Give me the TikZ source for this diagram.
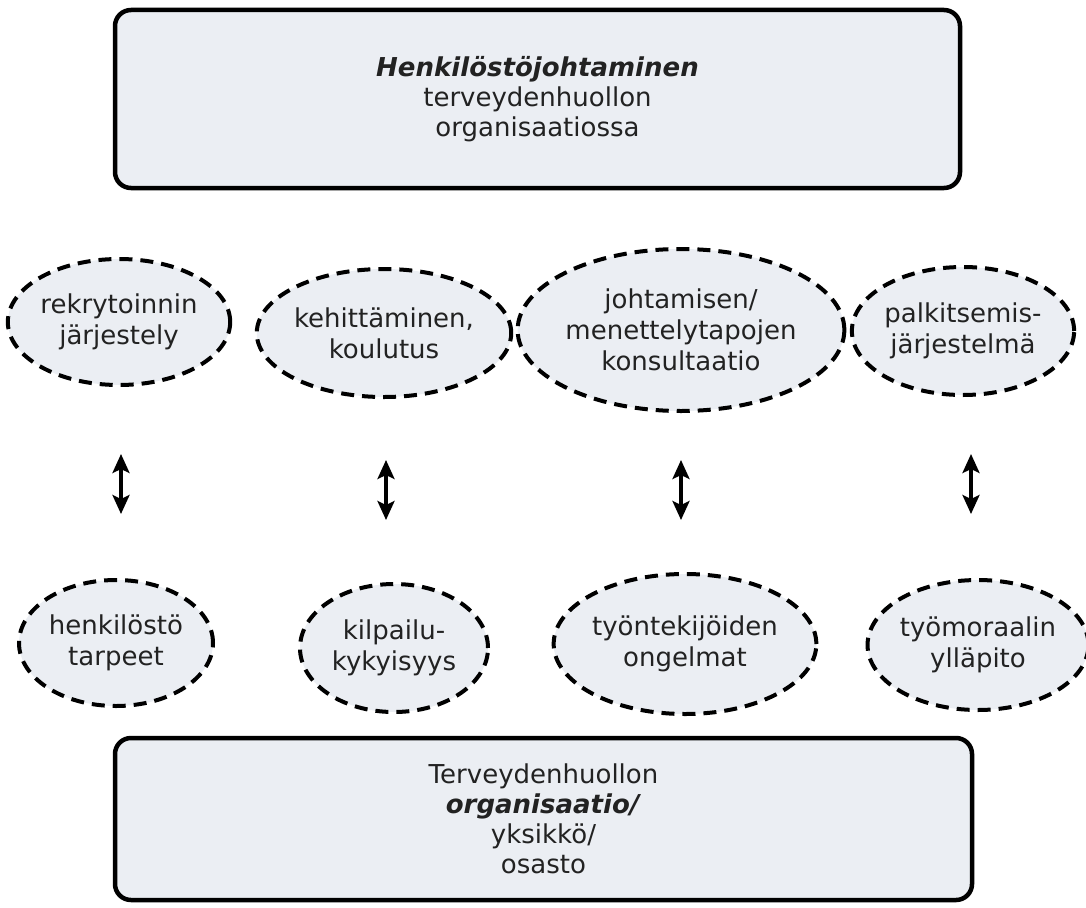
\documentclass[tikz,border=0pt]{standalone}
\usepackage{fontspec}
\setmainfont{DejaVu Sans}
\usetikzlibrary{shapes.geometric,arrows.meta}

\definecolor{custcol_fill}{RGB}{235, 238, 243}
\definecolor{custcol_line}{RGB}{0, 0, 0}
\definecolor{custcol_text}{RGB}{34, 34, 34}

\tikzset{
  mainbox/.style={draw=custcol_line, fill=custcol_fill, line width=4.5pt, rounded corners=16pt,
    inner sep=0, align=center, text=custcol_text, font=\fontsize{26}{30}\selectfont},
  topicoval/.style={ellipse, draw=custcol_line, fill=custcol_fill, line width=4pt,
    dash pattern=on 13pt off 8pt, inner sep=0, align=center, text=custcol_text,
    font=\fontsize{26}{31}\selectfont},
  linkarrow/.style={line width=3.5pt, custcol_line, {Stealth[length=19pt,width=17pt,inset=4pt]}-{Stealth[length=19pt,width=17pt,inset=4pt]}}
}

\begin{document}
\begin{tikzpicture}[x=1pt,y=-1pt]
\useasboundingbox (0,0) rectangle (1086,907);
% boxes
\node[mainbox, minimum width=845pt, minimum height=178pt] (hrm) at (537.5,99) {\textbf{\textit{Henkilöstöjohtaminen}}\\terveydenhuollon\\organisaatiossa};
\node[mainbox, minimum width=857pt, minimum height=162pt] (org) at (543.5,819) {Terveydenhuollon\\\textbf{\textit{organisaatio/}}\\yksikkö/\\osasto};
% upper row
\node[topicoval, minimum width=216pt, minimum height=126pt] (rekry) at (119,322) {rekrytoinnin\\järjestely};
\node[topicoval, minimum width=236pt, minimum height=128pt] (kehit) at (384,333) {kehittäminen,\\koulutus};
\node[topicoval, minimum width=303pt, minimum height=162pt] (johto) at (681,330) {johtamisen/\\menettelytapojen\\konsultaatio};
\node[topicoval, minimum width=210pt, minimum height=128pt] (palkka) at (963,331) {palkitsemis-\\järjestelmä};
% lower row
\node[topicoval, minimum width=194pt, minimum height=126pt] (tarve) at (116,643) {henkilöstö\\tarpeet};
\node[topicoval, minimum width=188pt, minimum height=128pt] (kilpa) at (394,648) {kilpailu-\\kykyisyys};
\node[topicoval, minimum width=244pt, minimum height=140pt] (ongel) at (685,644) {työntekijöiden\\ongelmat};
\node[topicoval, minimum width=206pt, minimum height=130pt] (moraali) at (978,645) {työmoraalin\\ylläpito};
% arrows
\coordinate (a1t) at (121,454); \coordinate (a1b) at (121,514);
\coordinate (a2t) at (386,460); \coordinate (a2b) at (386,520);
\coordinate (a3t) at (681,460); \coordinate (a3b) at (681,520);
\coordinate (a4t) at (971,454); \coordinate (a4b) at (971,514);
\draw[linkarrow] (a1t) -- (a1b);
\draw[linkarrow] (a2t) -- (a2b);
\draw[linkarrow] (a3t) -- (a3b);
\draw[linkarrow] (a4t) -- (a4b);
\end{tikzpicture}
\end{document}
